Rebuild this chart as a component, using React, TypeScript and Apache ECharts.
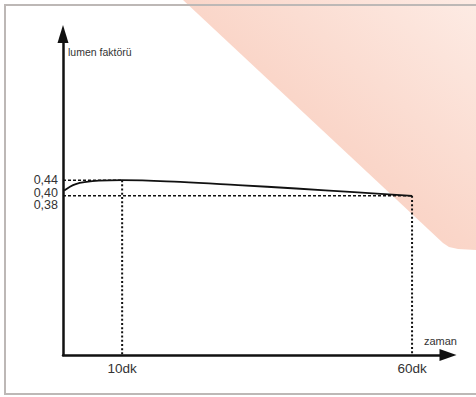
import React, { useEffect, useRef } from "react";
import * as echarts from "echarts";

// Data
const curveX = [0, 1, 2, 3.5, 6, 10, 20, 30, 40, 50, 60];
const curveY = [0.4, 0.415, 0.425, 0.432, 0.438, 0.44, 0.433, 0.421, 0.408, 0.394, 0.38];
const xTickValues = [10, 60];
const xTickLabels = ["10dk", "60dk"];
const yTickValues = [0.44, 0.4, 0.38];
const yTickLabels = ["0,44", "0,40", "0,38"];
const peakX = 10;
const peakY = 0.44;
const endX = 60;
const endY = 0.38;
const xName = "zaman";
const yName = "lumen faktörü";

const X_MIN = -0.2;
const X_MAX = 66.2;
const Y_MIN = -0.23;
const Y_MAX = 1.0;

const FONT = "'Liberation Sans', Arial, Helvetica, sans-serif";

export default function App() {
  const ref = useRef<HTMLDivElement>(null);

  useEffect(() => {
    if (!ref.current) return;
    const chart = echarts.init(ref.current, null, { renderer: "svg" });

    const guide = (pts: number[][], dash: number[], width: number) => ({
      type: "line",
      data: pts,
      symbol: "none",
      silent: true,
      z: 1,
      lineStyle: { color: "#111", width, type: dash },
    });

    const option: any = {
      animation: false,
      backgroundColor: "#ffffff",
      textStyle: { fontFamily: FONT },
      grid: { left: 63, right: 28, top: 34, bottom: 42, containLabel: false },
      xAxis: {
        type: "value",
        min: X_MIN,
        max: X_MAX,
        splitLine: { show: false },
        axisTick: { show: false },
        axisLine: {
          onZero: false,
          lineStyle: { color: "#111", width: 2.5 },
          symbol: ["none", "triangle"],
          symbolSize: [12, 17],
        },
        axisLabel: {
          customValues: xTickValues,
          formatter: (v: number) => {
            const i = xTickValues.indexOf(v);
            return i >= 0 ? xTickLabels[i] : "";
          },
          color: "#333",
          fontSize: 13.5,
          fontFamily: FONT,
          margin: 6,
        },
        name: xName,
        nameLocation: "end",
        nameGap: 9,
        nameTextStyle: {
          align: "right",
          verticalAlign: "bottom",
          padding: [0, 0, 9, 0],
          color: "#333",
          fontSize: 11,
          fontFamily: FONT,
        },
      },
      yAxis: {
        type: "value",
        min: Y_MIN,
        max: Y_MAX,
        splitLine: { show: false },
        axisTick: { show: false },
        axisLabel: { show: false },
        axisLine: {
          onZero: false,
          lineStyle: { color: "#111", width: 2.5 },
          symbol: ["none", "triangle"],
          symbolSize: [11, 18],
        },
        name: yName,
        nameLocation: "end",
        nameGap: -18,
        nameTextStyle: {
          align: "left",
          verticalAlign: "middle",
          padding: [0, 0, 0, 5],
          color: "#333",
          fontSize: 10.5,
          fontFamily: FONT,
        },
      },
      series: [
        guide([[X_MIN, peakY], [peakX, peakY]], [3, 2], 1.5),
        guide([[peakX, peakY], [peakX, Y_MIN]], [2, 2.2], 2),
        guide([[X_MIN, endY], [endX, endY]], [3, 2], 1.5),
        guide([[endX, endY], [endX, Y_MIN]], [2, 2.2], 2),
        {
          type: "line",
          data: curveX.map((x, i) => [x, curveY[i]]),
          smooth: 0.4,
          symbol: "none",
          z: 3,
          lineStyle: { color: "#111", width: 1.8 },
        },
      ],
      graphic: [
        {
          type: "polygon",
          z: -10,
          silent: true,
          shape: {
            points: [
              [183, 0],
              [476, 0],
              [476, 250],
              [458, 249],
              [449, 247],
              [443, 243],
            ],
          },
          style: {
            fill: new echarts.graphic.LinearGradient(0, 1, 1, 0, [
              { offset: 0, color: "#f8c7b5" },
              { offset: 0.5, color: "#fad6c9" },
              { offset: 1, color: "#fdebe4" },
            ]),
          },
        },
        {
          type: "rect",
          z: -5,
          silent: true,
          shape: { x: 5, y: 5, width: 480, height: 389 },
          style: { fill: "none", stroke: "#bdb8b6", lineWidth: 2 },
        },
      ],
    };

    chart.setOption(option);

    // Y tick labels placed at their values through the axis scale, spread apart if they collide
    const minGap = 12.5;
    let prev = -Infinity;
    const labelGraphics = yTickValues.map((v, i) => {
      const p = chart.convertToPixel({ gridIndex: 0 }, [X_MIN, v]) as number[];
      let y = p[1];
      if (y < prev + minGap) y = prev + minGap;
      prev = y;
      return {
        type: "text",
        z: 10,
        silent: true,
        x: p[0] - 5,
        y,
        style: {
          text: yTickLabels[i],
          align: "right",
          verticalAlign: "middle",
          fill: "#333",
          fontSize: 12.5,
          lineHeight: 12,
          fontFamily: FONT,
        },
      };
    });
    chart.setOption({ graphic: [...option.graphic, ...labelGraphics] });

    return () => chart.dispose();
  }, []);

  return (
    <div
      ref={ref}
      style={{ position: "fixed", left: 0, top: 0, width: 476, height: 397 }}
    />
  );
}
